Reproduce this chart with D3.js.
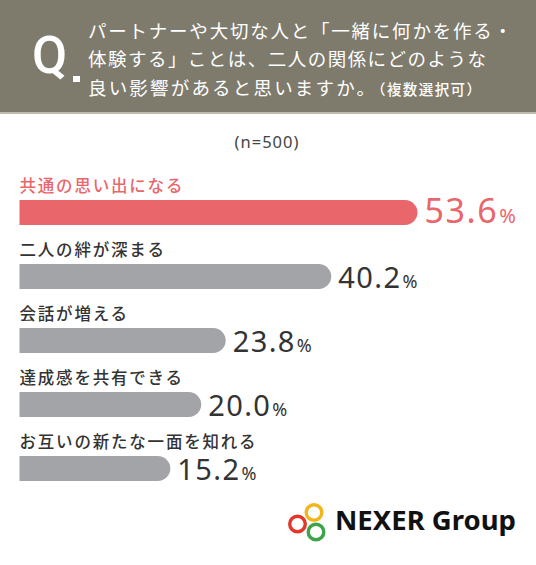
<!DOCTYPE html>
<html><head><meta charset="utf-8">
<script src="https://cdn.jsdelivr.net/npm/d3@7"></script>
<style>
html,body{margin:0;padding:0;background:#fff;}
svg{display:block;}
</style></head>
<body>
<svg id="chart" width="536" height="565"></svg>
<script>
// ---- data ----
const titleLines = [
  "パートナーや大切な人と「一緒に何かを作る・",
  "体験する」ことは、二人の関係にどのような",
  "良い影響があると思いますか。"
];
const titleNote = "（複数選択可）";
const sampleNote = "(n=500)";
const categories = [
  "共通の思い出になる",
  "二人の絆が深まる",
  "会話が増える",
  "達成感を共有できる",
  "お互いの新たな一面を知れる"
];
const values = [53.6, 40.2, 23.8, 20.0, 15.2];
const brandName = "NEXER Group";

// ---- styles ----
const JP = "'Noto Sans CJK JP','Noto Sans',sans-serif";
const RED = "#e9666a", GREY = "#a3a4a8", DARK = "#333333";

const svg = d3.select("#chart");

// header band
svg.append("rect").attr("x",0).attr("y",0).attr("width",536).attr("height",112).attr("fill","#7e7b6d");
svg.append("rect").attr("x",0).attr("y",112).attr("width",536).attr("height",2).attr("fill","#bdbab0");

svg.append("text").attr("x",32).attr("y",73)
  .attr("font-family","Roboto,'Noto Sans',sans-serif").attr("font-weight",500)
  .attr("font-size",51).attr("fill","#fff").text("Q");
svg.append("rect").attr("x",73).attr("y",76).attr("width",7).attr("height",6).attr("fill","#fff");

const titleLen = [424, 398, 287];
const titleBase = [38, 66, 95];
titleLines.forEach((t,i)=>{
  svg.append("text").attr("x",88).attr("y",titleBase[i])
    .attr("font-family",JP).attr("font-size",18.5).attr("fill","#fff")
    .attr("textLength",titleLen[i]).attr("lengthAdjust","spacing")
    .text(t);
});
svg.append("text").attr("x",371).attr("y",95)
  .attr("font-family",JP).attr("font-size",14.5).attr("font-weight",500).attr("fill","#fff")
  .attr("textLength",110).attr("lengthAdjust","spacing")
  .text(titleNote);

svg.append("text").attr("x",267).attr("y",148).attr("text-anchor","middle")
  .attr("font-family","'Noto Sans',sans-serif").attr("font-size",16.5).attr("fill","#444")
  .attr("letter-spacing",1)
  .text(sampleNote);

// ---- scales ----
const left = 19.5;
const x = d3.scaleLinear().domain([0, 53.6]).range([53, 398]);
const y = d3.scaleBand().domain(categories).range([200, 200 + 64*5]);
const barH = 25;

const rows = categories.map((c,i)=>({c, v: values[i], i}));

const g = svg.append("g");
function barPath(w, top){
  const r = barH/2;
  return `M${left},${top}H${left+w-r}A${r},${r} 0 0 1 ${left+w-r},${top+barH}H${left}Z`;
}
g.selectAll("path.bar").data(rows).join("path")
  .attr("class","bar")
  .attr("d", d => barPath(x(d.v), y(d.c)))
  .attr("fill", d => d.i===0 ? RED : GREY);

g.selectAll("text.cat").data(rows).join("text")
  .attr("class","cat")
  .attr("x", left).attr("y", d => y(d.c) - 8.5)
  .attr("font-family", JP).attr("font-size",16.5).attr("font-weight",500)
  .attr("letter-spacing",1.8)
  .attr("fill", d => d.i===0 ? RED : DARK)
  .text(d => d.c);

const val = g.selectAll("text.val").data(rows).join("text")
  .attr("class","val")
  .attr("x", d => left + x(d.v) + 7)
  .attr("y", d => y(d.c) + (d.i===0 ? 23 : 24))
  .attr("font-family","'Noto Sans',sans-serif")
  .attr("fill", d => d.i===0 ? RED : DARK);
val.append("tspan")
  .attr("font-size", d => d.i===0 ? 34 : 29)
  .attr("letter-spacing", d => d.i===0 ? 1.6 : 1.4)
  .text(d => d.v.toFixed(1));
val.append("tspan")
  .attr("font-size", d => d.i===0 ? 20 : 18)
  .attr("dx", 1)
  .text("%");

// ---- logo ----
const rings = [
  {cx:314, cy:512.5, col:"#f2b51b"},
  {cx:297.5, cy:524, col:"#e0382c"},
  {cx:316, cy:532, col:"#3ea34a"}
];
svg.selectAll("circle.ring").data(rings).join("circle")
  .attr("class","ring").attr("cx",d=>d.cx).attr("cy",d=>d.cy).attr("r",7.8)
  .attr("fill","none").attr("stroke",d=>d.col).attr("stroke-width",3.4);
svg.append("text").attr("x",335).attr("y",529.5)
  .attr("font-family","'Noto Sans',sans-serif").attr("font-weight",700)
  .attr("font-size",26).attr("fill","#111")
  .attr("textLength",181).attr("lengthAdjust","spacingAndGlyphs")
  .text(brandName);
</script>
</body></html>
